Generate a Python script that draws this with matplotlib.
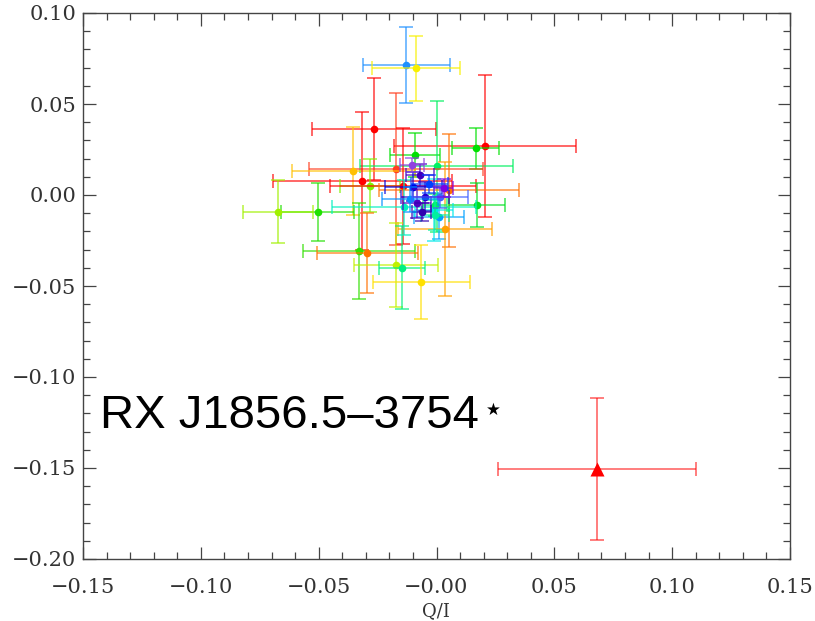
import numpy as np
import matplotlib
matplotlib.use("Agg")
import matplotlib.pyplot as plt
from matplotlib.ticker import MultipleLocator

# Q/I, U/I 측정값 (별 개별 관측)
q = [-0.0129, -0.0088, -0.0267, 0.0206, 0.0166, -0.0091, 0.0001, -0.0172,
     -0.0353, -0.0315, -0.0282, -0.0144, 0.0054, -0.0504, 0.0171, 0.0012,
     0.0035, -0.0328, -0.0294, -0.0172, -0.0145, -0.0064, -0.0673, -0.0138,
     -0.0010, -0.0006, -0.0006,
     -0.0070, -0.0098, -0.0049, -0.0084, -0.0063, -0.0112, 0.0015, -0.0105,
     0.0030, -0.0030]
u = [0.0714, 0.0696, 0.0363, 0.0269, 0.0256, 0.0220, 0.0159, 0.0143,
     0.0132, 0.0077, 0.0051, 0.0049, 0.0027, -0.0095, -0.0055, -0.0123,
     -0.0187, -0.0308, -0.0320, -0.0385, -0.0399, -0.0476, -0.0093, -0.0068,
     -0.0080, -0.0055, -0.0110,
     0.0110, 0.0046, -0.0009, -0.0046, -0.0092, -0.0024, -0.0010, 0.0165,
     0.0040, 0.0060]
q_err = [0.0185, 0.0187, 0.0263, 0.0388, 0.0100, 0.0105, 0.0325, 0.0370,
         0.0260, 0.0380, 0.0129, 0.0310, 0.0296, 0.0155, 0.0120, 0.0106,
         0.0200, 0.0237, 0.0214, 0.0180, 0.0098, 0.0207, 0.0148, 0.0305,
         0.0080, 0.0050, 0.0060,
         0.0060, 0.0120, 0.0100, 0.0060, 0.0040, 0.0120, 0.0120, 0.0050,
         0.0040, 0.0080]
u_err = [0.0210, 0.0180, 0.0280, 0.0390, 0.0113, 0.0120, 0.0360, 0.0420,
         0.0240, 0.0380, 0.0145, 0.0320, 0.0310, 0.0160, 0.0120, 0.0120,
         0.0370, 0.0265, 0.0220, 0.0230, 0.0227, 0.0204, 0.0173, 0.0150,
         0.0170, 0.0060, 0.0080,
         0.0060, 0.0080, 0.0080, 0.0080, 0.0050, 0.0070, 0.0060, 0.0040,
         0.0050, 0.0050]
colors = ['#1E90FF', '#F8F000', '#FF0000', '#FF0000', '#00E000', '#00E000',
          '#00F060', '#FF4020', '#FFC000', '#FF0000', '#80F000', '#FF0000',
          '#FF7000', '#20E000', '#00E020', '#00A0FF', '#FFA000', '#30E000',
          '#FF7000', '#C0F000', '#00F080', '#FFE000', '#A0F000', '#00F0C0',
          '#00E8E8', '#00F060', '#00F0A0',
          '#4000C0', '#0000E0', '#2000D0', '#5000C0', '#3000B0', '#0090FF',
          '#4060FF', '#9040E0', '#8000E0', '#0040FF']

# 적분 편광 (삼각형)
q_tot, u_tot = 0.068, -0.1505
q_tot_err, u_tot_err = 0.042, 0.039

x_ticks = [-0.15, -0.10, -0.05, 0.0, 0.05, 0.10, 0.15]
x_labels = ['\u22120.15', '\u22120.10', '\u22120.05', '\u22120.00', '0.05', '0.10', '0.15']
y_ticks = [0.10, 0.05, 0.0, -0.05, -0.10, -0.15, -0.20]
y_labels = ['0.10', '0.05', '0.00', '\u22120.05', '\u22120.10', '\u22120.15', '\u22120.20']

fig = plt.figure(figsize=(8.15, 6.21), dpi=100)
ax = fig.add_axes([83/815, 62/621, 707/815, 546/621])

for i in range(len(q)):
    ax.errorbar(q[i], u[i], xerr=q_err[i], yerr=u_err[i], fmt='none',
                ecolor=colors[i], elinewidth=1.3, capsize=5, capthick=1.3, alpha=0.65)
    ax.plot(q[i], u[i], 'o', color=colors[i], ms=5.5, mec='none')

ax.errorbar(q_tot, u_tot, xerr=q_tot_err, yerr=u_tot_err, fmt='none',
            ecolor='#FF0000', elinewidth=1.3, capsize=5, capthick=1.3, alpha=0.55)
ax.plot(q_tot, u_tot, '^', color='#FF0000', ms=10, mec='none')

ax.set_xlim(-0.15, 0.15)
ax.set_ylim(-0.20, 0.10)
ax.set_xticks(x_ticks)
ax.set_xticklabels(x_labels)
ax.set_yticks(y_ticks)
ax.set_yticklabels(y_labels)
ax.xaxis.set_minor_locator(MultipleLocator(0.01))
ax.yaxis.set_minor_locator(MultipleLocator(0.01))
ax.tick_params(which='both', direction='in', top=True, right=True, color='#444444', width=0.9)
ax.tick_params(which='major', length=9)
ax.tick_params(which='minor', length=5)
ax.tick_params(axis='x', pad=14)
ax.tick_params(axis='y', pad=5)
for lab in ax.get_xticklabels() + ax.get_yticklabels():
    lab.set_fontfamily('DejaVu Serif')
    lab.set_fontsize(15)
    lab.set_color('#333333')
for sp in ax.spines.values():
    sp.set_color('#444444')
    sp.set_linewidth(1.0)

# x축 이름 (원본에서는 아래쪽이 잘려 있음)
fig.text(436/815, 1/621, 'Q/I', ha='center', va='bottom', fontsize=13,
         family='DejaVu Serif', color='#333333')

ax.text(-0.1428, -0.128, 'RX J1856.5\u20133754', fontsize=34,
        family='Liberation Sans', color='black', ha='left', va='baseline')
ax.text(0.0240, -0.1181, '\u2605', fontsize=12, family='DejaVu Sans',
        color='black', ha='center', va='center')

fig.savefig('out.png', dpi=100)
